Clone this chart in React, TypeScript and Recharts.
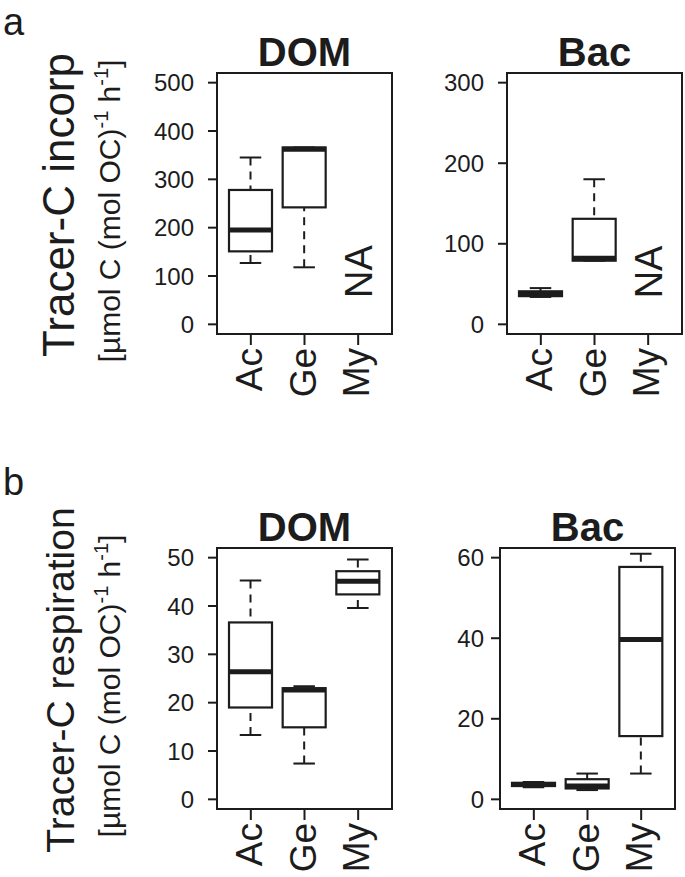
import { ComposedChart, Bar, XAxis, YAxis, ReferenceDot } from 'recharts'

const FONT = '"Liberation Sans", Arial, Helvetica, sans-serif'
const INK = '#1c1c1c'

const categories = ['Ac', 'Ge', 'My']

// box stats per category: [min, q1, median, q3, max]; null = NA
const incorpDOM = [[127, 151, 195, 278, 345], [118, 242, 362, 366, 366], null]
const incorpBac = [[34, 35, 38, 41, 45], [79, 79, 82, 131, 180], null]
const respDOM = [[13.3, 19.0, 26.4, 36.6, 45.3], [7.4, 14.9, 22.6, 23.0, 23.4], [39.6, 42.4, 45.1, 47.2, 49.6]]
const respBac = [[3.0, 3.3, 3.7, 4.1, 4.3], [2.3, 2.7, 3.3, 5.0, 6.4], [6.4, 15.7, 39.7, 57.7, 61.0]]

const incorpDOMTicks = [0, 100, 200, 300, 400, 500]
const incorpBacTicks = [0, 100, 200, 300]
const respDOMTicks = [0, 10, 20, 30, 40, 50]
const respBacTicks = [0, 20, 40, 60]

const toRows = (stats: (number[] | null)[]) =>
  categories.map((name, i) => ({
    name,
    stats: stats[i],
    range: stats[i] ? [stats[i]![0], stats[i]![4]] : null,
  }))

function BoxShape(props: any) {
  const { x, y, width, height, payload } = props
  if (!payload || !payload.stats) return null
  const [lo, q1, med, q3, hi] = payload.stats
  const top = Math.min(y, y + height)
  const bot = Math.max(y, y + height)
  const py = (v: number) => (hi === lo ? top : bot - ((v - lo) / (hi - lo)) * (bot - top))
  const cx = x + width / 2
  const cap = width / 4
  return (
    <g>
      {hi > q3 && <line x1={cx} x2={cx} y1={py(hi)} y2={py(q3)} stroke={INK} strokeWidth={2} strokeDasharray="8 6" />}
      {q1 > lo && <line x1={cx} x2={cx} y1={py(lo)} y2={py(q1)} stroke={INK} strokeWidth={2} strokeDasharray="8 6" />}
      <line x1={cx - cap} x2={cx + cap} y1={py(hi)} y2={py(hi)} stroke={INK} strokeWidth={2} />
      <line x1={cx - cap} x2={cx + cap} y1={py(lo)} y2={py(lo)} stroke={INK} strokeWidth={2} />
      <rect x={x} y={py(q3)} width={width} height={py(q1) - py(q3)} fill="#fff" stroke={INK} strokeWidth={2.2} />
      <line x1={x} x2={x + width} y1={py(med)} y2={py(med)} stroke={INK} strokeWidth={5} />
    </g>
  )
}

function CatTick({ x, y, payload }: any) {
  return (
    <text x={x} y={y} dy={11} transform={`rotate(-90 ${x} ${y})`} textAnchor="end"
      fontSize={37} fill={INK} fontFamily={FONT}>
      {payload.value}
    </text>
  )
}

function RowLabel({ letter, letterY, main, mainSize, cy }: any) {
  return (
    <g fontFamily={FONT} fill={INK}>
      <text x={3} y={letterY} fontSize={38}>{letter}</text>
      <text x={74} y={cy} transform={`rotate(-90 74 ${cy})`} textAnchor="middle" fontSize={mainSize}>{main}</text>
      <text x={120} y={cy + 6} transform={`rotate(-90 120 ${cy + 6})`} textAnchor="middle" fontSize={30}>
        [µmol C (mol OC)<tspan fontSize={20} dy={-12}>-1</tspan>
        <tspan dy={12}> h</tspan><tspan fontSize={20} dy={-12}>-1</tspan><tspan dy={12}>]</tspan>
      </text>
    </g>
  )
}

function Panel(p: any) {
  const data = toRows(p.stats)
  const plotLeft = p.yAxisWidth
  const plotW = p.width - p.yAxisWidth - p.margin.right
  const plotTop = p.margin.top
  const plotH = p.height - p.margin.top - p.xAxisHeight
  const decor = (
    <g>
      <rect x={plotLeft} y={plotTop} width={plotW} height={plotH} fill="none" stroke={INK} strokeWidth={2} />
      <text x={plotLeft + plotW / 2} y={plotTop - 7} textAnchor="middle" fontSize={40}
        fontWeight="bold" fill={INK} fontFamily={FONT}>{p.title}</text>
      {p.rowLabel}
    </g>
  )
  return (
    <div style={{ position: 'absolute', left: p.left, top: p.top }}>
      <ComposedChart width={p.width} height={p.height} data={data}
        margin={{ top: p.margin.top, right: p.margin.right, left: 0, bottom: 0 }}>
        <XAxis dataKey="name" type="category" height={p.xAxisHeight} padding={{ left: 7, right: 7 }}
          axisLine={false} tickLine={{ stroke: INK, strokeWidth: 2 }}
          tickSize={11} tickMargin={3} tick={<CatTick />} interval={0} />
        <YAxis type="number" domain={p.domain} ticks={p.ticks} allowDataOverflow interval={0} width={p.yAxisWidth}
          axisLine={false} tickLine={{ stroke: INK, strokeWidth: 2 }}
          tickSize={9} tickMargin={p.tickMargin} tick={{ fontSize: 24, fill: INK, fontFamily: FONT }}
          label={{ content: () => decor }} />
        <Bar dataKey="range" barSize={43} isAnimationActive={false} shape={<BoxShape />} />
        {p.naValue != null && (
          <ReferenceDot x="My" y={p.naValue} r={0} ifOverflow="visible"
            shape={(d: any) => (
              <text x={d.cx} y={d.cy} dy="0.36em" transform={`rotate(-90 ${d.cx} ${d.cy})`} textAnchor="middle"
                fontSize={38} fill={INK} fontFamily={FONT}>NA</text>
            )} />
        )}
      </ComposedChart>
    </div>
  )
}

export default function App() {
  return (
    <div style={{ position: 'absolute', left: 0, top: 0, width: 685, height: 877, background: '#fff' }}>
      <Panel left={0} top={0} width={400} height={420} margin={{ top: 73, right: 8 }} yAxisWidth={217}
        xAxisHeight={86} domain={[-20, 520]} ticks={incorpDOMTicks} stats={incorpDOM} title="DOM"
        naValue={109} tickMargin={14}
        rowLabel={<RowLabel letter="a" letterY={35} main="Tracer-C incorp" mainSize={44} cy={205} />} />
      <Panel left={410} top={0} width={275} height={420} margin={{ top: 73, right: 3 }} yAxisWidth={97}
        xAxisHeight={86} domain={[-12, 312]} ticks={incorpBacTicks} stats={incorpBac} title="Bac"
        naValue={65} tickMargin={14} />
      <Panel left={0} top={430} width={400} height={447} margin={{ top: 118, right: 8 }} yAxisWidth={217}
        xAxisHeight={68} domain={[-2, 52]} ticks={respDOMTicks} stats={respDOM} title="DOM"
        tickMargin={14}
        rowLabel={<RowLabel letter="b" letterY={65} main="Tracer-C respiration" mainSize={39} cy={250} />} />
      <Panel left={410} top={430} width={275} height={447} margin={{ top: 118, right: 10 }} yAxisWidth={90}
        xAxisHeight={68} domain={[-2.4, 62.4]} ticks={respBacTicks} stats={respBac} title="Bac"
        tickMargin={7} />
    </div>
  )
}
